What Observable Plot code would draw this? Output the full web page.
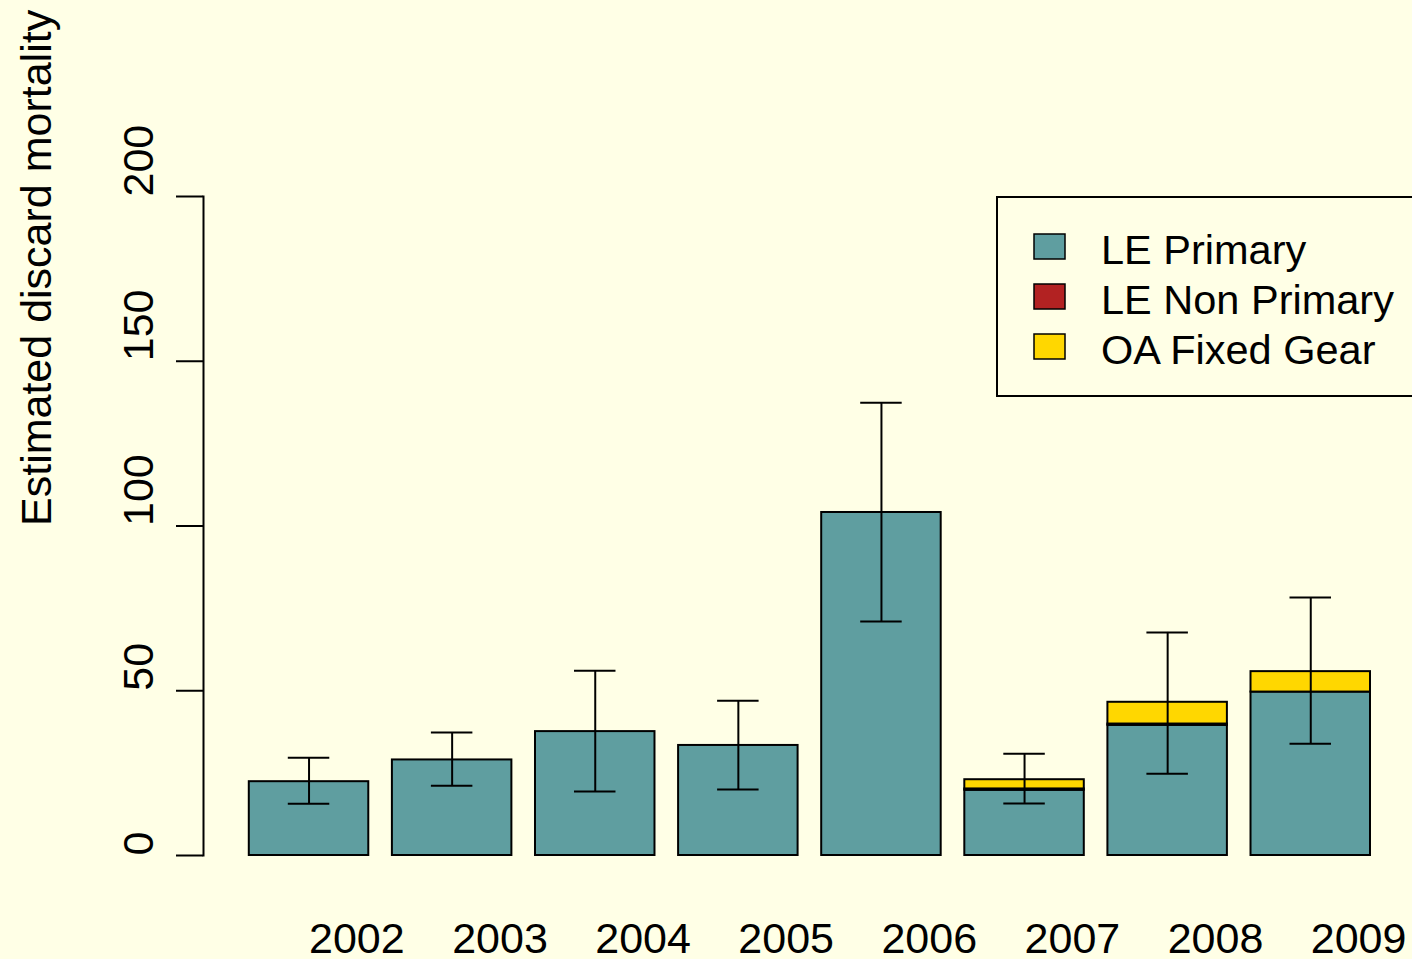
<!DOCTYPE html>
<html>
<head>
<meta charset="utf-8">
<script src="https://cdn.jsdelivr.net/npm/d3@7"></script>
<script src="https://cdn.jsdelivr.net/npm/@observablehq/plot@0.6"></script>
<style>
  html, body { margin: 0; padding: 0; background: #FFFFE6; }
  svg { display: block; }
</style>
</head>
<body>
<div id="chart"></div>
<script>
const years = ["2002", "2003", "2004", "2005", "2006", "2007", "2008", "2009"];
const seriesNames = ["LE Primary", "LE Non Primary", "OA Fixed Gear"];
const seriesColors = ["#5F9EA0", "#B22222", "#FFD700"];
const lePrimary = [22.4, 29.0, 37.6, 33.4, 104.1, 19.8, 39.5, 49.6];
const leNonPrimary = [0, 0, 0, 0, 0, 0.4, 0.4, 0];
const oaFixedGear = [0, 0, 0, 0, 0, 2.8, 6.6, 6.2];
const errLow = [15.7, 21.2, 19.4, 20.0, 71.0, 15.8, 24.8, 33.9];
const errHigh = [29.7, 37.3, 56.1, 47.0, 137.4, 30.9, 67.7, 78.3];
const yTicks = [0, 50, 100, 150, 200];
const yTitle = "Estimated discard mortality";

const seriesValues = [lePrimary, leNonPrimary, oaFixedGear];
const stacked = [];
seriesNames.forEach((s, si) => {
  years.forEach((yr, i) => stacked.push({year: yr, series: s, value: seriesValues[si][i]}));
});
const errors = years.map((yr, i) => ({year: yr, lo: errLow[i], hi: errHigh[i]}));

const FONT = "'Liberation Sans', Arial, sans-serif";
const FS = 43;

const chart = Plot.plot({
  width: 1412,
  height: 959,
  marginTop: 196,
  marginBottom: 104,
  marginLeft: 203,
  marginRight: 42,
  style: {background: "#FFFFE6", fontFamily: FONT, color: "black"},
  x: {domain: years, paddingInner: 0.165, paddingOuter: 0.16, align: 1, round: false, axis: null},
  y: {domain: [0, 200], axis: null},
  color: {domain: seriesNames, range: seriesColors},
  marks: [
    Plot.frame({anchor: "left", stroke: "black", strokeWidth: 2}),
    Plot.axisY({ticks: yTicks, tickSize: 27, tickFormat: () => "", label: null, strokeWidth: 2}),
    Plot.text(yTicks, {y: d => d, text: d => String(d), frameAnchor: "left", dx: -51, rotate: -90,
      textAnchor: "start", lineAnchor: "bottom", fontSize: FS, fill: "black"}),
    Plot.text([yTitle], {y: () => 100, text: d => d, frameAnchor: "left", dx: -153, rotate: -90,
      textAnchor: "start", lineAnchor: "bottom", fontSize: FS, fill: "black"}),
    Plot.barY(stacked, {x: "year", y: "value", fill: "series", stroke: "black", strokeWidth: 2}),
    Plot.ruleX(errors, {x: "year", y1: "lo", y2: "hi", stroke: "black", strokeWidth: 2}),
    Plot.tickY(errors, {x: "year", y: "lo", stroke: "black", strokeWidth: 2, insetLeft: 39, insetRight: 39}),
    Plot.tickY(errors, {x: "year", y: "hi", stroke: "black", strokeWidth: 2, insetLeft: 39, insetRight: 39}),
    Plot.text(years, {x: d => d, text: d => d, frameAnchor: "bottom", dy: 97, textAnchor: "start",
      lineAnchor: "bottom", fontSize: FS, fill: "black"})
  ]
});

document.getElementById("chart").appendChild(chart);

// Legend
const svg = d3.select(chart);
const lg = svg.append("g").attr("font-family", FONT).attr("text-anchor", "start");
lg.append("rect").attr("x", 997).attr("y", 197).attr("width", 500).attr("height", 199)
  .attr("fill", "none").attr("stroke", "black").attr("stroke-width", 2);
seriesNames.forEach((s, i) => {
  const cy = 246 + i * 50;
  lg.append("rect").attr("x", 1034).attr("y", cy - 12).attr("width", 31).attr("height", 25)
    .attr("fill", seriesColors[i]).attr("stroke", "black").attr("stroke-width", 1.5);
  lg.append("text").attr("x", 1101).attr("y", 264 + i * 50).attr("font-size", 41.5)
    .attr("text-anchor", "start").attr("fill", "black").text(s);
});
</script>
</body>
</html>
